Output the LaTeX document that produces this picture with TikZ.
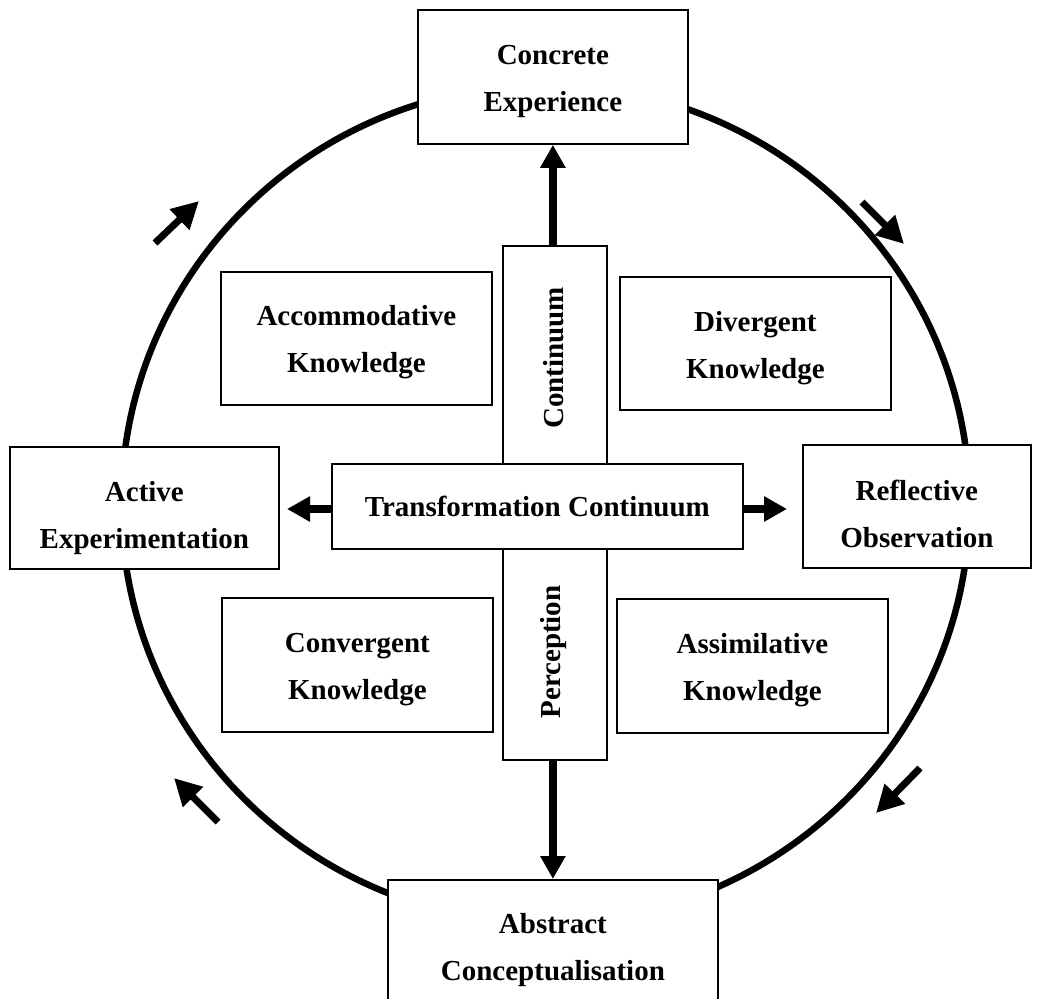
\documentclass[tikz,border=0pt]{standalone}
\usepackage{fontspec}
\setmainfont{Liberation Serif}
\usetikzlibrary{arrows.meta}
% invisible rule that lowers the lines of a label inside its box
\newcommand\lifttext[1]{\rule{0pt}{#1}}
\begin{document}
\begin{tikzpicture}[x=1pt,y=-1pt,
  box/.style={draw, line width=1.8pt, fill=white, inner sep=0pt, align=center,
    anchor=north west, font=\bfseries\fontsize{29}{47}\selectfont},
  vlabel/.style={font=\bfseries\fontsize{29}{47}\selectfont, rotate=90},
  bigarrow/.style={line width=7.5pt, -{Triangle[length=23pt,width=24pt]}},
  cyclearrow/.style={line width=7pt, -{Triangle[length=27pt,width=27pt]}},
  cycle/.style={line width=6.5pt}]
\useasboundingbox (0,0) rectangle (1037,999);

% learning cycle
\draw[cycle] (545.5,504) ellipse [x radius=424pt, y radius=419pt];

% the four stages
\node[box, minimum width=270pt, minimum height=134pt] (ce) at (417,9) {\lifttext{28pt}Concrete\\Experience};
\node[box, minimum width=228pt, minimum height=123pt] (ro) at (802,444) {\lifttext{36pt}Reflective\\Observation};
\node[box, minimum width=330pt, minimum height=135pt] (ac) at (387,879) {\lifttext{26pt}Abstract\\Conceptualisation};
\node[box, minimum width=269pt, minimum height=122pt] (ae) at (9,446) {\lifttext{41pt}Active\\Experimentation};

% the four kinds of knowledge
\node[box, minimum width=271pt, minimum height=133pt] (acc) at (220,271) {\lifttext{28pt}Accommodative\\Knowledge};
\node[box, minimum width=271pt, minimum height=133pt] (div) at (619,276) {\lifttext{29pt}Divergent\\Knowledge};
\node[box, minimum width=271pt, minimum height=134pt] (con) at (221,597) {\lifttext{28pt}Convergent\\Knowledge};
\node[box, minimum width=271pt, minimum height=134pt] (ass) at (616,598) {\lifttext{28pt}Assimilative\\Knowledge};

% the two continua
\node[box, minimum width=104pt, minimum height=218pt] (cont) at (502,245) {};
\node[box, minimum width=104pt, minimum height=211pt] (perc) at (502,548) {};
\node[vlabel] (contl) at (554,358) {Continuum};
\node[vlabel] (percl) at (554,652) {Perception};
\node[box, minimum width=411pt, minimum height=85pt] (tr) at (331,463) {Transformation Continuum};

% arrows out of the continua
\coordinate (tipL) at (287,509);
\coordinate (tipR) at (787,509);
\draw[bigarrow] (ce.south |- cont.north) -- (ce.south);
\draw[bigarrow] (ac.north |- perc.south) -- (ac.north);
\draw[bigarrow] (tr.west |- tipL) -- (tipL);
\draw[bigarrow] (tr.east |- tipR) -- (tipR);

% direction of the cycle
\coordinate (a1s) at (155,243); \coordinate (a1e) at (199,201);
\coordinate (a2s) at (862,202); \coordinate (a2e) at (904,244);
\coordinate (a3s) at (920,768); \coordinate (a3e) at (876,813);
\coordinate (a4s) at (218,822); \coordinate (a4e) at (174,778);
\draw[cyclearrow] (a1s) -- (a1e);
\draw[cyclearrow] (a2s) -- (a2e);
\draw[cyclearrow] (a3s) -- (a3e);
\draw[cyclearrow] (a4s) -- (a4e);
\end{tikzpicture}
\end{document}
